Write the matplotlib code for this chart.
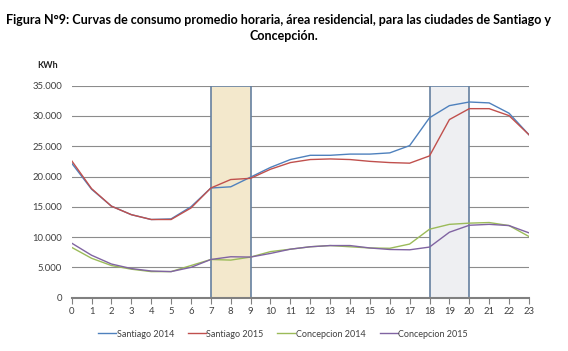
import numpy as np
from matplotlib import pyplot as plt
from matplotlib.patches import Rectangle
from matplotlib.ticker import FuncFormatter

plt.rcParams['font.family'] = ['Lato', 'DejaVu Sans']

hours = list(range(24))

santiago_2014 = [22200, 17900, 15100, 13700, 12900, 13000, 15000, 18100, 18300, 19900,
                 21500, 22800, 23500, 23500, 23700, 23700, 23900, 25100, 29700, 31700,
                 32300, 32150, 30450, 26900]
santiago_2015 = [22600, 18000, 15100, 13700, 12900, 12900, 14800, 18100, 19500, 19700,
                 21200, 22300, 22800, 22900, 22800, 22500, 22300, 22200, 23400, 29400,
                 31200, 31200, 30050, 26900]
concepcion_2014 = [8300, 6500, 5300, 4700, 4300, 4300, 5300, 6300, 6200, 6700,
                   7600, 8000, 8400, 8600, 8400, 8200, 8150, 8850, 11300, 12100,
                   12300, 12400, 11900, 10100]
concepcion_2015 = [9000, 7000, 5550, 4800, 4400, 4300, 5000, 6300, 6750, 6700,
                   7300, 8000, 8400, 8600, 8600, 8200, 7950, 7900, 8350, 10800,
                   11950, 12100, 11900, 10700]

series = [
    ('Santiago 2014', santiago_2014, '#4F81BD'),
    ('Santiago 2015', santiago_2015, '#C0504D'),
    ('Concepcion 2014', concepcion_2014, '#9BBB59'),
    ('Concepcion 2015', concepcion_2015, '#8064A2'),
]

# highlighted hour windows: (start, end, fill)
windows = [(7, 9, '#F3E8CC'), (18, 20, '#EEEFF2')]

fig = plt.figure(figsize=(5.68, 3.51), dpi=100)
ax = fig.add_axes([0.1262, 0.152, 0.805, 0.604])

for x0, x1, fc in windows:
    ax.add_patch(Rectangle((x0, 0), x1 - x0, 35000, facecolor=fc,
                           edgecolor='#6680A0', linewidth=1.2, zorder=1))

ax.set_yticks(np.arange(0, 35001, 5000))
ax.yaxis.grid(True, color='#8C8C8C', linewidth=0.8, zorder=0)
ax.set_axisbelow(True)

for name, vals, col in series:
    ax.plot(hours, vals, color=col, linewidth=1.0, label=name, zorder=3)

ax.set_xlim(0, 23)
ax.set_ylim(0, 35000)
ax.set_xticks(hours)
ax.yaxis.set_major_formatter(FuncFormatter(
    lambda v, p: '{:,.0f}'.format(v).replace(',', '.')))

for s in ['top', 'right', 'left']:
    ax.spines[s].set_visible(False)
ax.spines['bottom'].set_color('#808080')
ax.spines['bottom'].set_linewidth(1.5)
ax.spines['bottom'].set_zorder(4)
ax.tick_params(axis='x', direction='out', length=4, color='#808080',
               labelsize=6.8, labelcolor='#404040', pad=3)
ax.tick_params(axis='y', length=0, labelsize=6.8, labelcolor='#404040', pad=7)

fig.text(0.066, 0.805, 'KWh', fontsize=6.5, fontweight='bold', color='#202020')

fig.text(0.49, 0.943, 'Figura N°9: Curvas de consumo promedio horaria, área residencial, para las ciudades de Santiago y',
         ha='center', va='center', fontsize=9.0, fontweight='bold')
fig.text(0.5, 0.897, 'Concepción.', ha='center', va='center', fontsize=9.0, fontweight='bold')

fig.legend(loc='center', bbox_to_anchor=(0.498, 0.048), ncol=4, frameon=False,
           fontsize=6.5, handlelength=2.0, handletextpad=0.1, columnspacing=1.5,
           labelcolor='#404040')

plt.savefig('out.png', dpi=100)
